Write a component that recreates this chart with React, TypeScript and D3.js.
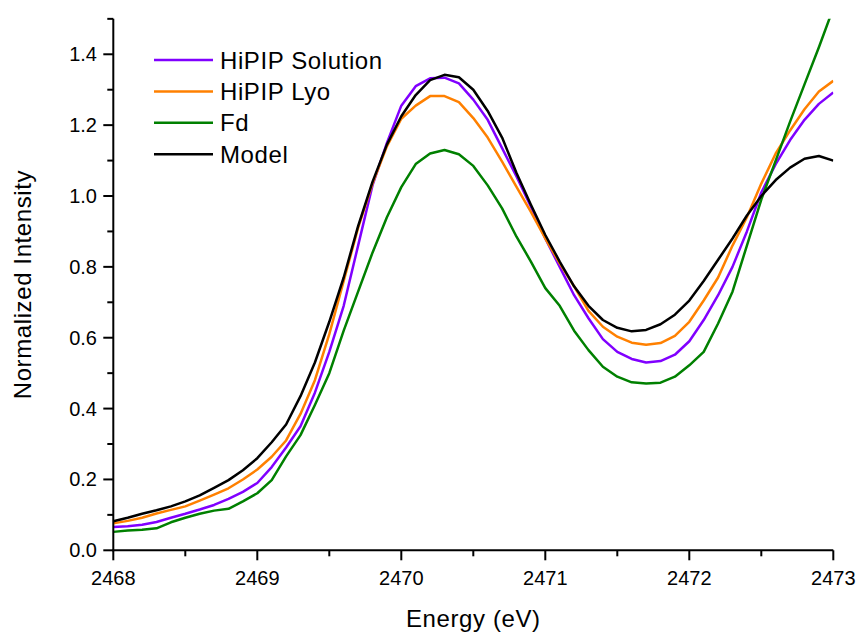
import React from "react";
import * as d3 from "d3";

const energy = [
  2468.0, 2468.1, 2468.2, 2468.3, 2468.4, 2468.5, 2468.6, 2468.7, 2468.8, 2468.9,
  2469.0, 2469.1, 2469.2, 2469.3, 2469.4, 2469.5, 2469.6, 2469.7, 2469.8, 2469.9,
  2470.0, 2470.1, 2470.2, 2470.3, 2470.4, 2470.5, 2470.6, 2470.7, 2470.8, 2470.9,
  2471.0, 2471.1, 2471.2, 2471.3, 2471.4, 2471.5, 2471.6, 2471.7, 2471.8, 2471.9,
  2472.0, 2472.1, 2472.2, 2472.3, 2472.4, 2472.5, 2472.6, 2472.7, 2472.8, 2472.9,
  2473.0,
];

const hipipSolution = [
  0.066, 0.068, 0.072, 0.08, 0.092, 0.103, 0.115, 0.128, 0.145, 0.165,
  0.19, 0.235, 0.29, 0.35, 0.445, 0.56, 0.69, 0.86, 1.03, 1.15,
  1.255, 1.31, 1.332, 1.334, 1.318, 1.272, 1.215, 1.135, 1.055, 0.97,
  0.88, 0.8, 0.72, 0.655, 0.596, 0.56, 0.54, 0.53, 0.534, 0.552,
  0.59, 0.65, 0.72, 0.8, 0.9, 1.01, 1.09, 1.158, 1.215, 1.26,
  1.292,
];

const hipipLyo = [
  0.076, 0.083, 0.092, 0.104, 0.114, 0.124, 0.14, 0.157, 0.175, 0.2,
  0.228, 0.264, 0.31, 0.385, 0.48, 0.61, 0.76, 0.91, 1.035, 1.14,
  1.218, 1.255, 1.282, 1.282, 1.265, 1.22, 1.165, 1.097, 1.026, 0.955,
  0.88, 0.81, 0.745, 0.676, 0.631, 0.603, 0.586, 0.58, 0.585, 0.605,
  0.645, 0.705, 0.77, 0.86, 0.94, 1.035, 1.12, 1.185, 1.245, 1.295,
  1.325,
];

const fd = [
  0.052, 0.056, 0.058, 0.062, 0.079, 0.092, 0.103, 0.112, 0.117, 0.138,
  0.161, 0.198, 0.265, 0.325, 0.41, 0.5, 0.62, 0.73, 0.84, 0.94,
  1.025, 1.09, 1.12, 1.13, 1.118, 1.085, 1.03, 0.965, 0.885, 0.815,
  0.74, 0.69, 0.62, 0.565, 0.518, 0.49, 0.474, 0.471, 0.473, 0.49,
  0.522, 0.56, 0.64, 0.73, 0.86, 0.99, 1.1, 1.21, 1.315, 1.42,
  1.53,
];

const model = [
  0.082, 0.092, 0.103, 0.113, 0.124, 0.138, 0.155, 0.176, 0.198, 0.226,
  0.26, 0.305, 0.355, 0.435, 0.53, 0.645, 0.77, 0.915, 1.04, 1.145,
  1.225, 1.285, 1.327, 1.342, 1.335, 1.3, 1.24, 1.165, 1.065, 0.975,
  0.89, 0.815, 0.745, 0.69, 0.65, 0.628, 0.618, 0.622, 0.638, 0.665,
  0.705, 0.76, 0.82, 0.88, 0.945, 1.0, 1.045, 1.08, 1.105, 1.113,
  1.1,
];

const seriesNames = ["HiPIP Solution", "HiPIP Lyo", "Fd", "Model"];
const seriesColors = ["#8000FF", "#FF8000", "#008000", "#000000"];
const seriesValues = [hipipSolution, hipipLyo, fd, model];

const xMajorTicks = [2468, 2469, 2470, 2471, 2472, 2473];
const xMinorTicks = [2468.5, 2469.5, 2470.5, 2471.5, 2472.5];
const yMajorTicks = [0.0, 0.2, 0.4, 0.6, 0.8, 1.0, 1.2, 1.4];
const yMinorTicks = [0.1, 0.3, 0.5, 0.7, 0.9, 1.1, 1.3, 1.5];

const W = 860;
const H = 635;
const left = 113.3;
const right = 833.3;
const top = 18.85;
const bottom = 550.3;

export default function App() {
  const x = d3.scaleLinear().domain([2468, 2473]).range([left, right]);
  const y = d3.scaleLinear().domain([0, 1.5]).range([bottom, top]);
  const line = d3
    .line<[number, number]>()
    .x((d) => x(d[0]))
    .y((d) => y(d[1]));

  const font = "'Liberation Sans', Arial, sans-serif";
  const majorLen = 9;
  const minorLen = 5;

  return (
    <svg
      width={W}
      height={H}
      style={{ position: "absolute", left: 0, top: 0, background: "#fff" }}
      fontFamily={font}
    >
      <defs>
        <clipPath id="plotClip">
          <rect x={left} y={top} width={right - left} height={bottom - top} />
        </clipPath>
      </defs>
      <rect x={0} y={0} width={W} height={H} fill="#fff" />

      <g clipPath="url(#plotClip)">
        {seriesValues.map((vals, i) => (
          <path
            key={seriesNames[i]}
            d={line(energy.map((e, j) => [e, vals[j]] as [number, number])) || ""}
            fill="none"
            stroke={seriesColors[i]}
            strokeWidth={2.5}
            strokeLinejoin="round"
          />
        ))}
      </g>

      {/* axes */}
      <line x1={left} x2={left} y1={top} y2={bottom + 1} stroke="#000" strokeWidth={2} />
      <line x1={left - 1} x2={right} y1={bottom} y2={bottom} stroke="#000" strokeWidth={2} />

      {xMajorTicks.map((t) => (
        <g key={"xM" + t}>
          <line x1={x(t)} x2={x(t)} y1={bottom} y2={bottom + majorLen + 1} stroke="#000" strokeWidth={2} />
          <text x={x(t)} y={585} textAnchor="middle" fontSize={20} fill="#000">
            {t}
          </text>
        </g>
      ))}
      {xMinorTicks.map((t) => (
        <line key={"xm" + t} x1={x(t)} x2={x(t)} y1={bottom} y2={bottom + minorLen + 1} stroke="#000" strokeWidth={2} />
      ))}
      {yMajorTicks.map((t) => (
        <g key={"yM" + t}>
          <line x1={left - majorLen - 1} x2={left} y1={y(t)} y2={y(t)} stroke="#000" strokeWidth={2} />
          <text x={97} y={y(t) + 7} textAnchor="end" fontSize={20} fill="#000">
            {t.toFixed(1)}
          </text>
        </g>
      ))}
      {yMinorTicks.map((t) => (
        <line key={"ym" + t} x1={left - minorLen - 1} x2={left} y1={y(t)} y2={y(t)} stroke="#000" strokeWidth={2} />
      ))}

      <text x={(left + right) / 2} y={627} textAnchor="middle" fontSize={24} letterSpacing={0.6} fill="#000">
        Energy (eV)
      </text>
      <text
        transform={`translate(31, ${(top + bottom) / 2}) rotate(-90)`}
        textAnchor="middle"
        fontSize={24}
        letterSpacing={0.6}
        fill="#000"
      >
        Normalized Intensity
      </text>

      {/* legend */}
      {seriesNames.map((name, i) => {
        const ly = 60 + i * 31.4;
        return (
          <g key={"lg" + name}>
            <line x1={154} x2={213} y1={ly} y2={ly} stroke={seriesColors[i]} strokeWidth={2.5} />
            <text x={220} y={ly + 8.5} fontSize={24} letterSpacing={0.6} fill="#000">
              {name}
            </text>
          </g>
        );
      })}
    </svg>
  );
}
